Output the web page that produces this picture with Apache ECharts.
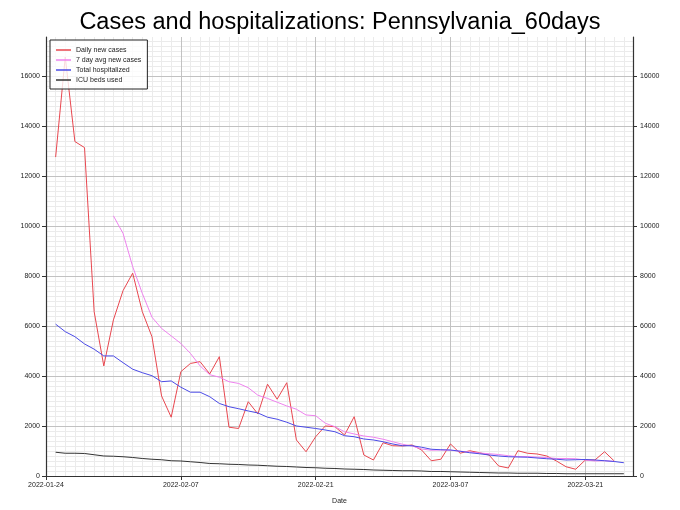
<!DOCTYPE html>
<html>
<head>
<meta charset="utf-8">
<script src="https://cdn.jsdelivr.net/npm/echarts@6/dist/echarts.min.js"></script>
<style>
html, body { margin: 0; padding: 0; background: #fff; }
#chart { width: 680px; height: 510px; }
</style>
</head>
<body>
<div id="chart"></div>
<script>
// data
const dates = [
	'2022-01-25','2022-01-26','2022-01-27','2022-01-28','2022-01-29','2022-01-30','2022-01-31',
	'2022-02-01','2022-02-02','2022-02-03','2022-02-04','2022-02-05','2022-02-06','2022-02-07',
	'2022-02-08','2022-02-09','2022-02-10','2022-02-11','2022-02-12','2022-02-13','2022-02-14',
	'2022-02-15','2022-02-16','2022-02-17','2022-02-18','2022-02-19','2022-02-20','2022-02-21',
	'2022-02-22','2022-02-23','2022-02-24','2022-02-25','2022-02-26','2022-02-27','2022-02-28',
	'2022-03-01','2022-03-02','2022-03-03','2022-03-04','2022-03-05','2022-03-06','2022-03-07',
	'2022-03-08','2022-03-09','2022-03-10','2022-03-11','2022-03-12','2022-03-13','2022-03-14',
	'2022-03-15','2022-03-16','2022-03-17','2022-03-18','2022-03-19','2022-03-20','2022-03-21',
	'2022-03-22','2022-03-23','2022-03-24','2022-03-25'
]
const dailyCases = [
	12750,16750,13370,13130,6570,4400,6240,7410,8110,6570,
	5570,3200,2350,4170,4500,4570,4080,4770,1950,1900,
	2970,2480,3670,3070,3730,1440,970,1570,2000,1970,
	1640,2370,840,640,1330,1210,1200,1240,1040,610,
	670,1280,910,1010,930,840,400,320,1010,910,
	880,800,600,370,270,640,640,970,600,null
]
const avgCases = [
	null,null,null,null,null,null,
	10400,9700,8370,7300,6350,5900,5600,5300,4900,4400,
	4050,3950,3770,3700,3530,3230,3100,2950,2800,2670,
	2440,2410,2110,1970,1770,1680,1600,1550,1470,1370,
	1270,1200,1080,1030,1040,1030,990,960,920,890,
	860,810,775,775,755,735,700,700,690,640,
	600,610,585,null
]
const hospitalized = [
	6070,5770,5570,5280,5070,4800,4800,4530,4270,4130,
	4010,3770,3800,3550,3350,3350,3170,2900,2770,2690,
	2600,2520,2350,2270,2150,2000,1950,1900,1840,1770,
	1610,1570,1480,1440,1370,1280,1210,1210,1150,1070,
	1050,1040,990,930,890,840,800,770,760,750,
	720,690,670,640,650,660,640,610,580,530
]
const icuBeds = [
	950,910,910,900,850,800,790,770,740,700,
	670,650,610,600,570,540,500,490,470,460,
	440,430,410,390,380,360,340,330,310,300,
	280,270,260,240,230,220,210,210,200,180,
	180,170,160,150,140,130,120,120,110,110,
	110,100,100,90,90,90,90,90,90,90
]
const xTickLabels = ['2022-01-24','2022-02-07','2022-02-21','2022-03-07','2022-03-21']
const yTickLabels = [0,2000,4000,6000,8000,10000,12000,14000,16000]

const DAY = 86400000
const xMin = Date.parse(xTickLabels[0])
const xMax = Date.parse(dates[dates.length - 1]) + 0.95 * DAY
const yMax = 17550

const pair = arr => dates.map((d, i) => [Date.parse(d), arr[i]])
const pad = n => (n < 10 ? '0' : '') + n
const fmtDate = v => {
	const d = new Date(v)
	return d.getUTCFullYear() + '-' + pad(d.getUTCMonth() + 1) + '-' + pad(d.getUTCDate())
}

const chart = echarts.init(document.getElementById('chart'))

const axisLineStyle = { color: '#333', width: 1.2 }
const labelStyle = { fontSize: 7, color: '#222' }

const lineSeries = (name, data, color) => ({
	name,
	type: 'line',
	data: pair(data),
	symbol: 'none',
	connectNulls: false,
	lineStyle: { color, width: 1 },
	itemStyle: { color },
	z: 3
})

chart.setOption({
	animation: false,
	textStyle: { fontFamily: 'Liberation Sans' },
	title: {
		text: 'Cases and hospitalizations: Pennsylvania_60days',
		left: 'center',
		top: 6,
		textStyle: { fontSize: 23.5, fontWeight: 'normal', color: '#000' }
	},
	legend: {
		orient: 'vertical',
		left: 50,
		top: 40,
		padding: [5, 6, 4, 6],
		itemGap: 0,
		itemWidth: 15,
		itemHeight: 1.5,
		icon: 'rect',
		backgroundColor: 'rgba(255,255,255,0.8)',
		borderColor: '#222',
		borderWidth: 1,
		borderRadius: 0,
		textStyle: { fontSize: 7, color: '#222', lineHeight: 10 },
		z: 10
	},
	grid: { left: 46, right: 47, top: 37, bottom: 34 },
	xAxis: [
		{
			type: 'value',
			min: xMin,
			max: xMax,
			interval: 14 * DAY,
			position: 'bottom',
			z: 1,
			name: 'Date',
			nameLocation: 'middle',
			nameGap: 22,
			nameTextStyle: labelStyle,
			axisLine: { onZero: false, lineStyle: axisLineStyle },
			axisTick: { length: 4, lineStyle: { color: '#333' } },
			axisLabel: Object.assign({ margin: 6, showMaxLabel: false, formatter: fmtDate }, labelStyle),
			splitLine: { show: true, showMaxLine: false, lineStyle: { color: '#c2c2c2', width: 1 } }
		},
		{
			type: 'value',
			min: xMin,
			max: xMax,
			interval: DAY,
			position: 'bottom',
			z: 0,
			axisLine: { show: false },
			axisTick: { show: false },
			axisLabel: { show: false },
			splitLine: { show: true, showMaxLine: false, lineStyle: { color: '#ebebeb', width: 1 } }
		}
	],
	yAxis: [
		{
			type: 'value',
			min: yTickLabels[0],
			max: yMax,
			interval: yTickLabels[1] - yTickLabels[0],
			position: 'left',
			z: 1,
			axisLine: { show: true, lineStyle: axisLineStyle },
			axisTick: { show: true, length: 4, lineStyle: { color: '#333' } },
			axisLabel: Object.assign({ margin: 6, showMaxLabel: false, formatter: v => String(v) }, labelStyle),
			splitLine: { show: true, showMaxLine: false, lineStyle: { color: '#c2c2c2', width: 1 } }
		},
		{
			type: 'value',
			min: yTickLabels[0],
			max: yMax,
			interval: yTickLabels[1] - yTickLabels[0],
			position: 'right',
			z: 1,
			axisLine: { show: true, lineStyle: axisLineStyle },
			axisTick: { show: true, length: 4, lineStyle: { color: '#333' } },
			axisLabel: Object.assign({ margin: 7, showMaxLabel: false, formatter: v => String(v) }, labelStyle),
			splitLine: { show: false }
		},
		{
			type: 'value',
			min: 0,
			max: yMax,
			interval: 200,
			position: 'left',
			z: 0,
			axisLine: { show: false },
			axisTick: { show: false },
			axisLabel: { show: false },
			splitLine: { show: true, showMaxLine: false, lineStyle: { color: '#ebebeb', width: 1 } }
		}
	],
	series: [
		lineSeries('Daily new cases', dailyCases, '#e8474f'),
		lineSeries('7 day avg new cases', avgCases, '#ee82ee'),
		lineSeries('Total hospitalized', hospitalized, '#4a4ae6'),
		lineSeries('ICU beds used', icuBeds, '#333333')
	]
})
</script>
</body>
</html>
